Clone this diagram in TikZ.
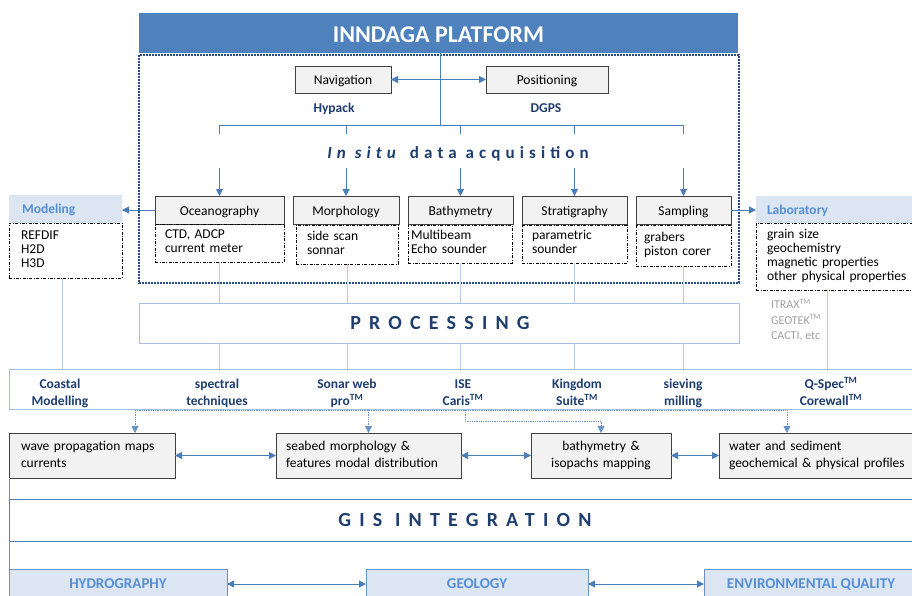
\documentclass[tikz,border=0pt]{standalone}
\usepackage{fontspec}
\setmainfont{Carlito}
\newfontfamily\spA[LetterSpace=41]{Carlito}
\newfontfamily\spB[LetterSpace=30]{Carlito}
\usetikzlibrary{arrows.meta}
\definecolor{tbar}{RGB}{79,129,189}
\definecolor{dkblue}{RGB}{30,62,112}
\definecolor{midblue}{RGB}{74,126,187}
\definecolor{ltline}{RGB}{185,205,229}
\definecolor{ltbox}{RGB}{220,230,242}
\definecolor{lttext}{RGB}{85,142,213}
\definecolor{gfill}{RGB}{242,242,242}
\definecolor{gborder}{RGB}{64,64,64}
\definecolor{dotblue}{RGB}{40,75,140}
\definecolor{graytext}{RGB}{160,160,160}
\definecolor{procborder}{RGB}{165,190,222}
\definecolor{bborder}{RGB}{105,147,200}
\begin{document}
\begin{tikzpicture}[x=1pt,y=-1pt,
  every node/.style={inner sep=0pt, outer sep=0pt},
  tip/.tip={Triangle[length=7pt,width=7pt]},
  hbox/.style={draw=gborder, fill=gfill, line width=0.9pt, font=\fontsize{13.5}{14}\selectfont, text height=12.7pt, text depth=2pt, minimum height=28pt},
  subbox/.style={draw=black, line width=0.5pt, dash pattern=on 3pt off 1.5pt on 0.8pt off 1.5pt, font=\fontsize{13.5}{14}\selectfont, align=left},
  lhead/.style={fill=ltbox, font=\fontsize{13.5}{14}\selectfont\bfseries, text=lttext, align=left, text height=9pt, text depth=0pt},
  obox/.style={draw=gborder, fill=gfill, line width=0.9pt, font=\fontsize{13.5}{17}\selectfont, minimum height=45pt},
  lbl/.style={font=\fontsize{13.5}{14}\selectfont\bfseries, text=dkblue, text height=9pt, text depth=0pt},
  rowlbl/.style={font=\fontsize{13.5}{17}\selectfont\bfseries, text=dkblue, align=center},
  bbox/.style={draw=bborder, fill=ltbox, line width=0.8pt, font=\fontsize{15}{15}\selectfont\bfseries, text=lttext, text height=9.7pt, text depth=0pt, minimum height=30pt},
  arr/.style={draw=midblue, line width=1pt, -tip},
  darr/.style={draw=midblue, line width=1pt, tip-tip},
  brline/.style={draw=midblue, line width=0.8pt},
  lt/.style={draw=ltline, line width=0.9pt},
  dconn/.style={draw=bborder, line width=0.8pt, densely dotted}
]
\useasboundingbox (0,0) rectangle (912,596);
\clip (0,0) rectangle (912,596);
\fill[white] (0,0) rectangle (912,596);

% title and frame
\node[fill=tbar, minimum width=599pt, minimum height=40pt, text=white, font=\fontsize{24}{24}\selectfont\bfseries, text height=19.5pt, text depth=0pt] (title) at (438.5,33) {INNDAGA PLATFORM};
\draw[dotblue, line width=1.8pt, dash pattern=on 1.8pt off 1.2pt] (139,55) rectangle (739,283);

% navigation / positioning
\node[hbox, minimum width=96pt, minimum height=27pt] (nav) at (343,79.5) {Navigation};
\node[hbox, minimum width=122pt, minimum height=27pt] (pos) at (547,79.5) {Positioning};
\node[lbl] (hyp) at (334,108) {Hypack};
\node[lbl] (dgps) at (546,108) {DGPS};

% in situ
\node[font=\fontsize{17}{17}\selectfont\spB\bfseries, text=dkblue, text height=11pt, text depth=0pt] (insitu) at (458,153) {\textit{In situ} data acquisition};

% acquisition boxes
\node[hbox, minimum width=129pt] (oc) at (219.5,210) {Oceanography};
\node[hbox, minimum width=106pt] (mo) at (346,210) {Morphology};
\node[hbox, minimum width=105pt] (ba) at (460.5,210) {Bathymetry};
\node[hbox, minimum width=105pt] (st) at (574.5,210) {Stratigraphy};
\node[hbox, minimum width=95pt] (sa) at (683.5,210) {Sampling};

\node[subbox, text width=109pt, inner xsep=10pt, minimum height=38pt] (ocs) at (219.5,243) {\strut CTD, ADCP\\\strut current meter};
\node[subbox, text width=80pt, inner xsep=11pt, minimum height=39pt] (mos) at (347,244.5) {\strut side scan\\\strut sonnar};
\node[subbox, text width=98pt, inner xsep=3pt, minimum height=38pt] (bas) at (460,244) {\strut Multibeam\\\strut Echo sounder};
\node[subbox, text width=85pt, inner xsep=10pt, minimum height=38pt] (sts) at (574.5,244) {\strut parametric\\\strut sounder};
\node[subbox, text width=79pt, inner xsep=8pt, minimum height=41pt] (sas) at (683.5,245.5) {\strut grabers\\\strut piston corer};

% modeling / laboratory
\node[lhead, text width=87pt, inner xsep=13pt, minimum height=28pt] (mod) at (65.5,209) {Modeling};
\node[subbox, text width=89pt, inner xsep=12pt, minimum height=55pt] (mods) at (65.5,250.5) {\strut REFDIF\\\strut H2D\\\strut H3D};
\node[lhead, text width=152pt, inner xsep=11pt, minimum height=27pt] (lab) at (843,209.5) {Laboratory};
\node[subbox, text width=152pt, inner xsep=11pt, minimum height=67pt] (labs) at (843,256.5) {\strut grain size\\\strut geochemistry\\\strut magnetic properties\\\strut other physical properties};
\node[font=\fontsize{12}{15.5}\selectfont, text=graytext, align=left, anchor=west] (itrax) at (771,321) {\strut ITRAX\textsuperscript{TM}\\\strut GEOTEK\textsuperscript{TM}\\\strut CACTI, etc};

% processing
\node[draw=procborder, line width=0.9pt, minimum width=600pt, minimum height=40pt, font=\fontsize{20}{20}\selectfont\spA\bfseries, text=dkblue, text height=12.9pt, text depth=0pt] (proc) at (439,323) {\hspace*{2pt}PROCESSING};

% row of tools
\node[draw=procborder, line width=0.9pt, minimum width=912pt, minimum height=40pt] (row) at (465,389) {};
\node[rowlbl] (r1) at (60,394) {\strut Coastal\\\strut Modelling};
\node[rowlbl] (r2) at (217,394) {\strut spectral\\\strut techniques};
\node[rowlbl] (r3) at (347,394) {\strut Sonar web\\\strut pro\textsuperscript{TM}};
\node[rowlbl] (r4) at (463,394) {\strut ISE\\\strut Caris\textsuperscript{TM}};
\node[rowlbl] (r5) at (577,394) {\strut Kingdom\\\strut Suite\textsuperscript{TM}};
\node[rowlbl] (r6) at (683,394) {\strut sieving\\\strut milling};
\node[rowlbl] (r7) at (831,394) {\strut Q-Spec\textsuperscript{TM}\\\strut Corewall\textsuperscript{TM}};

% outputs
\node[obox, text width=142pt, inner xsep=12pt, align=left] (wave) at (92,455.5) {\strut wave propagation maps\\\strut currents};
\node[obox, text width=165pt, inner xsep=10pt, align=left] (sea) at (368.5,455.5) {\strut seabed morphology \&\\\strut features modal distribution};
\node[obox, text width=120pt, inner xsep=10pt, align=center] (bat) at (601,455.5) {\strut bathymetry \&\\\strut isopachs mapping};
\node[obox, text width=191pt, inner xsep=10pt, align=left] (wat) at (824.5,455.5) {\strut water and sediment\\\strut geochemical \& physical profiles};

% GIS
\node[draw=tbar, line width=0.9pt, minimum width=912pt, minimum height=42pt, font=\fontsize{20}{20}\selectfont\spA\bfseries, text=dkblue, text height=12.9pt, text depth=0pt] (gis) at (465,520) {GIS INTEGRATION};

% bottom themes
\node[bbox, minimum width=218pt] (hyd) at (118,584) {HYDROGRAPHY};
\node[bbox, minimum width=222pt] (geo) at (477,584) {GEOLOGY};
\node[bbox, minimum width=214pt] (env) at (811,584) {ENVIRONMENTAL QUALITY};

% ---- connectors ----
\draw[darr] (nav) -- (pos);
\coordinate (br) at (440,125);
\coordinate (atop) at (0,168);
\draw[brline] (title.south -| br) -- (br);
\draw[brline] (oc.north |- br) -- (sa.north |- br);
\foreach \n in {oc,mo,ba,st,sa}{
  \draw[brline] (\n.north |- br) -- ++(0,9);
  \draw[arr] (\n.north |- atop) -- (\n.north);
}
\draw[arr] (oc.west) -- (oc.west -| mod.east);
\draw[arr] (sa.east) -- (sa.east -| lab.west);

\coordinate (cM) at (62,0);
\coordinate (cL) at (827,0);
\draw[lt] (mods.south -| cM) -- (row.north -| cM);
\draw[lt] (labs.south -| cL) -- (row.north -| cL);
\foreach \s in {ocs,mos,bas,sts,sas}{
  \draw[lt] (\s.south) -- (\s.south |- proc.north);
  \draw[lt] (\s.south |- proc.south) -- (\s.south |- row.north);
}

\coordinate (dW) at (135,410);
\coordinate (dX) at (787,410);
\coordinate (dI) at (465,410);
\draw[dconn] (dW) -- (dX);
\draw[dconn,-tip] (dW) -- (dW |- wave.north);
\draw[dconn,-tip] (sea.north |- dW) -- (sea.north);
\draw[dconn,-tip] (dX) -- (dX |- wat.north);
\draw[dconn,-tip] (dI) -- ++(0,11) -| (bat.north);

\draw[darr] (wave) -- (sea);
\draw[darr] (sea) -- (bat);
\draw[darr] (bat) -- (wat);
\draw[draw=bborder, line width=0.9pt] (wave.south west) -- (gis.north west);
\draw[draw=bborder, line width=0.9pt] (gis.south west) -- (hyd.north west);
\draw[darr] (hyd) -- (geo);
\draw[darr] (geo) -- (env);
\end{tikzpicture}
\end{document}
